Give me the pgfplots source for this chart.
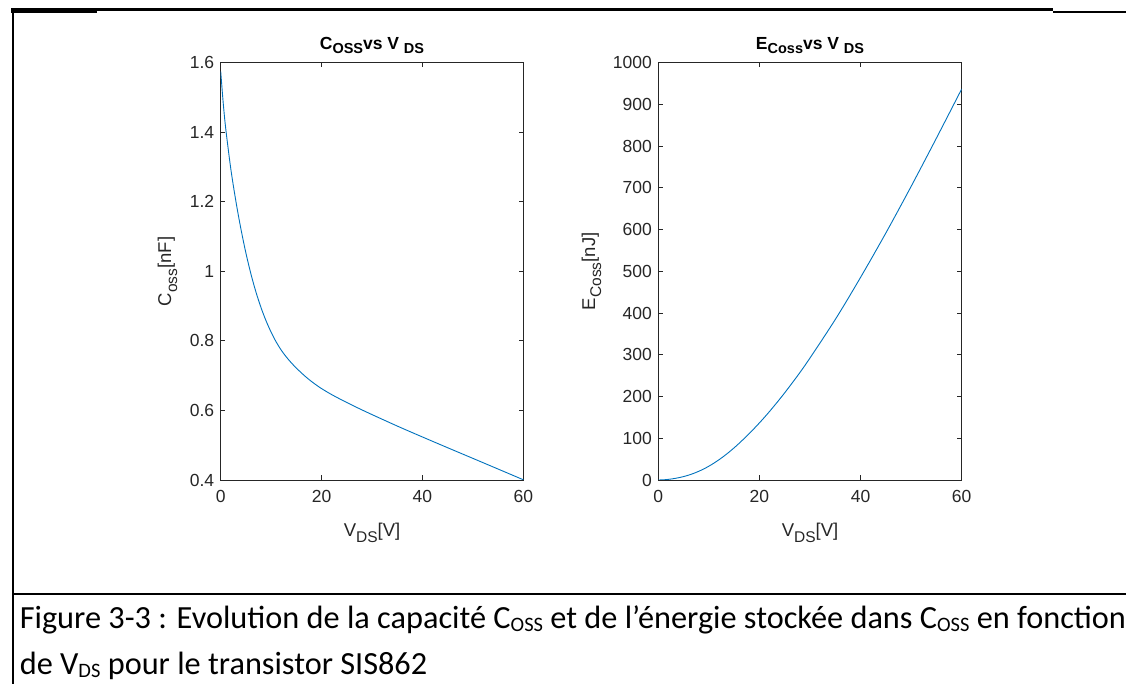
\documentclass[border=0pt]{standalone}
\usepackage{fontspec}
\setmainfont{Liberation Sans}
\newfontfamily\carlito{Carlito}
\usepackage{pgfplots}
\pgfplotsset{compat=1.18}

\definecolor{mblue}{rgb}{0,0.447,0.741}
\definecolor{maxis}{rgb}{0.15,0.15,0.15}

% matlab-like subscripts
\newcommand{\msub}[1]{\raisebox{-0.6ex}{\fontsize{15.5}{15.5}\selectfont #1}}
\newcommand{\tsub}[1]{\raisebox{-0.4ex}{\fontsize{14.5}{14.5}\selectfont\bfseries #1}}
\newcommand{\csub}[1]{\raisebox{-3pt}{\fontsize{20.5}{20.5}\selectfont #1}}

\pgfplotsset{matlab/.style={
    scale only axis, anchor=south west, height=417.3pt,
    xmin=0, xmax=60, xtick={0,20,40,60},
    scaled ticks=false,
    axis line style={maxis, line width=0.8pt},
    tick style={maxis, line width=0.8pt},
    tick align=inside, major tick length=4.5pt,
    xtick pos=both, ytick pos=both,
    /pgf/number format/assume math mode=true,
    /pgf/number format/1000 sep={},
    ticklabel style={font=\fontsize{17.5}{17.5}\selectfont, text=maxis},
    xticklabel style={yshift=-7pt},
    yticklabel style={xshift=-3pt},
    label style={font=\fontsize{18.5}{18.5}\selectfont, text=maxis},
    xlabel style={at={(axis description cs:0.5,0)}, anchor=center, yshift=-53pt},
    title style={font=\bfseries\fontsize{17.5}{17.5}\selectfont, at={(axis description cs:0.5,1)}, anchor=base, yshift=6.7pt},
}}

\begin{document}
\begin{tikzpicture}[x=1pt,y=1pt]
\useasboundingbox (0,0) rectangle (1126,684);

% table borders round the figure
\draw[line width=3pt] (11,674.5) -- (1053,674.5);
\draw[line width=2pt] (11,672) -- (97,672);
\draw[line width=2pt] (1053,672) -- (1126,672);
\draw[line width=2pt] (12.5,675) -- (12.5,0);
\draw[line width=2pt] (12.5,90.4) -- (1126,90.4);

% left: Coss vs VDS
\begin{axis}[matlab, at={(220.7pt,204pt)}, width=302.6pt,
    ymin=0.4, ymax=1.6, ytick={0.4,0.6,0.8,1,1.2,1.4,1.6},
    yticklabels={0.4,0.6,0.8,1,1.2,1.4,1.6},
    xlabel={V\msub{DS}[V]},
    ylabel={C\msub{oss}[nF]},
    ylabel style={at={(axis description cs:-0.1758,0.5)}, anchor=center},
    title={C\tsub{OSS}vs V \tsub{DS}}]
\addplot[mblue, line width=0.9pt, smooth, tension=0.5] coordinates {
(0,1.575) (0.5,1.484) (1,1.410) (2,1.295) (3,1.2025) (4,1.1225)
(5,1.0525) (6,0.992) (7,0.940) (8,0.8955) (9,0.8575) (10,0.825)
(11,0.797) (12,0.7735) (13,0.754) (14,0.737) (15,0.7218) (16,0.708)
(17,0.695) (18,0.6833) (19,0.6727) (20,0.6628) (22,0.6456) (25,0.6228)
(29,0.5948) (35,0.5552) (40,0.5237) (45,0.4928) (50,0.4622) (55,0.4315)
(60,0.4007)};
\end{axis}

% right: ECoss vs VDS
\begin{axis}[matlab, at={(658.3pt,204pt)}, width=303.4pt,
    ymin=0, ymax=1000, ytick={0,100,...,1000},
    xlabel={V\msub{DS}[V]},
    ylabel={E\msub{Coss}[nJ]},
    ylabel style={at={(axis description cs:-0.2202,0.5)}, anchor=center},
    title={E\tsub{Coss}vs V \tsub{DS}}]
\addplot[mblue, line width=0.9pt, smooth, tension=0.5] coordinates {
(0,0) (1,0.4) (2,1.5) (3,3.2) (4,5.4) (5,8.2) (6,11.7) (7,15.9)
(8,20.9) (9,26.5) (10,33.1) (11,40.4) (12,48.5) (13,57.4) (14,66.9)
(15,77.2) (16,88.1) (18,111.4) (20,136.9) (22,164.3) (25,209)
(29,274.6) (35,384.7) (40,485.6) (45,591.9) (50,703.6) (55,819.2)
(60,937.1)};
\end{axis}

% caption
\node[anchor=base west, inner sep=0pt] at (19.6,55) {\carlito\fontsize{32.3}{32.3}\selectfont
  Figure 3-3 : Evolution de la capacité C\csub{OSS} et de l’énergie stockée dans C\csub{OSS} en fonction};
\node[anchor=base west, inner sep=0pt] at (19.6,9) {\carlito\fontsize{32.3}{32.3}\selectfont
  de V\csub{DS} pour le transistor SIS862};
\end{tikzpicture}
\end{document}
